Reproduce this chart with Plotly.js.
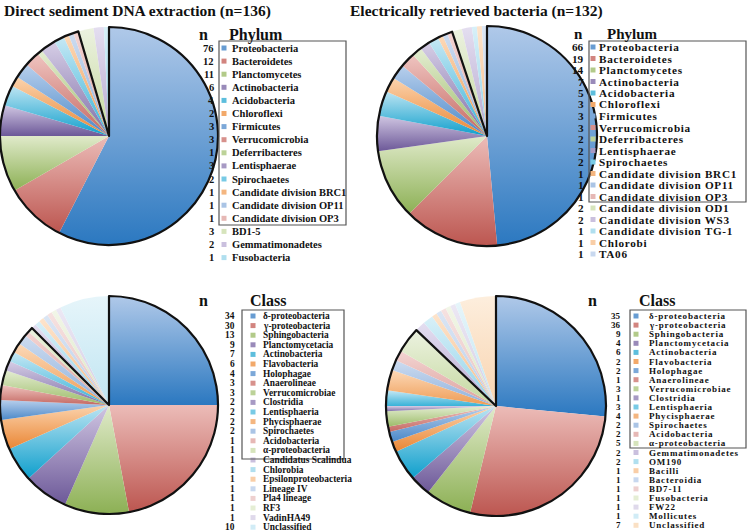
<!DOCTYPE html>
<html><head><meta charset="utf-8">
<script src="https://cdn.plot.ly/plotly-3.0.1.min.js"></script>
<style>html,body{margin:0;padding:0;background:#fff}#chart{width:747px;height:532px}</style>
</head><body><div id="chart"></div>
<script>
// ---------- DATA ----------
const phylumDirectNames = ["Proteobacteria","Bacteroidetes","Planctomycetes","Actinobacteria","Acidobacteria","Chloroflexi","Firmicutes","Verrucomicrobia","Deferribacteres","Lentisphaerae","Spirochaetes","Candidate division BRC1","Candidate division OP11","Candidate division OP3","BD1-5","Gemmatimonadetes","Fusobacteria"];
const phylumDirectN = [76,12,11,6,4,2,3,3,1,3,2,1,1,1,3,2,1];
const phylumDirectBoxed = 14;

const phylumElecNames = ["Proteobacteria","Bacteroidetes","Planctomycetes","Actinobacteria","Acidobacteria","Chloroflexi","Firmicutes","Verrucomicrobia","Deferribacteres","Lentisphaerae","Spirochaetes","Candidate division BRC1","Candidate division OP11","Candidate division OP3","Candidate division OD1","Candidate division WS3","Candidate division TG-1","Chlorobi","TA06"];
const phylumElecN = [66,19,14,7,5,3,3,3,2,2,2,1,1,1,2,2,1,1,1];
const phylumElecBoxed = 14;

const classDirectNames = ["δ-proteobacteria","γ-proteobacteria","Sphingobacteria","Planctomycetacia","Actinobacteria","Flavobacteria","Holophagae","Anaerolineae","Verrucomicrobiae","Clostridia","Lentisphaeria","Phycisphaerae","Spirochaetes","Acidobacteria","α-proteobacteria","Candidatus Scalindua","Chlorobia","Epsilonproteobacteria","Lineage IV","Pla4 lineage","RF3","VadinHA49","Unclassified"];
const classDirectN = [34,30,13,9,7,6,4,3,3,2,2,2,2,1,1,1,1,1,1,1,1,1,10];
const classDirectBoxed = 15;

const classElecNames = ["δ-proteobacteria","γ-proteobacteria","Sphingobacteria","Planctomycetacia","Actinobacteria","Flavobacteria","Holophagae","Anaerolineae","Verrucomicrobiae","Clostridia","Lentisphaeria","Phycisphaerae","Spirochaetes","Acidobacteria","α-proteobacteria","Gemmatimonadetes","OM190","Bacilli","Bacteroidia","BD7-11","Fusobacteria","FW22","Mollicutes","Unclassified"];
const classElecN = [35,36,9,4,6,2,2,1,3,1,3,4,2,2,5,2,2,1,1,1,1,1,1,7];
const classElecBoxed = 15;

const titleLeft = "Direct sediment DNA extraction (n=136)";
const titleRight = "Electrically retrieved bacteria (n=132)";

// ---------- STYLE ----------
const W = 747, H = 532;
const FONT = "Liberation Serif";
const pairs = [
 ['#b0c9e9','#2b78c0'],['#ecbcb8','#bc5650'],['#e0eaca','#8cb054'],['#d0c6e2','#6c5898'],['#bde4f2','#0e9fcc'],['#fbd3ad','#ea8634'],
 ['#b8cfec','#4a88c8'],['#efc4c0','#c46862'],['#e4edd2','#9cbc68'],['#d6cee6','#8070a8'],['#c6e8f4','#38b2d8'],['#fcd9b8','#ee9a52'],
 ['#cddcf0','#8db0dc'],['#f3d4d2','#dca19d'],['#ecf2e0','#c4d89e'],['#e4def0','#b4a7cf'],['#d8f0f8','#8fd1e8'],['#fde4cc','#f5bc88'],
 ['#dbe6f4','#b8cdea'],['#f6e2e1','#e8c2c0'],['#f2f6e8','#dbe7c4'],['#ece8f4','#d4cce4'],['#e6f5fa','#c0e5f2'],['#fdeedd','#f8d4b0']
];
function hex2rgb(h){return [1,3,5].map(i=>parseInt(h.substr(i,2),16));}
function mix(a,b,t){const A=hex2rgb(a),B=hex2rgb(b);return 'rgb('+A.map((v,i)=>Math.round(v*(1-t)+B[i]*t)).join(',')+')';}
const mids = pairs.map(p=>mix(p[0],p[1],0.55));

const px = x => x / W, py = y => 1 - y / H;

const pies = [
  {names: phylumDirectNames, vals: phylumDirectN, boxed: phylumDirectBoxed, cx:109, cy:136, r:109},
  {names: phylumElecNames, vals: phylumElecN, boxed: phylumElecBoxed, cx:487, cy:136, r:110},
  {names: classDirectNames, vals: classDirectN, boxed: classDirectBoxed, cx:109, cy:405, r:109},
  {names: classElecNames, vals: classElecN, boxed: classElecBoxed, cx:496, cy:406, r:110}
];

const legends = [
  {head:"Phylum", nX:203, headX:256, headY:35, hs:16, numR:215, mk:224, nameX:231, y0:48, dy:13.1, fs:10.5, ls:0, box:[219,41,346,225]},
  {head:"Phylum", nX:578, headX:632, headY:34, hs:15, numR:585, mk:593, nameX:598, y0:47, dy:11.5, fs:11.2, ls:0.7, box:[589,41,746,202]},
  {head:"Class", nX:203, headX:268, headY:300, hs:16, numR:236, mk:253, nameX:262, y0:316, dy:9.6, fs:9.4, ls:0, box:[242,310,344,459]},
  {head:"Class", nX:592, headX:657, headY:300, hs:16, numR:622, mk:636, nameX:648, y0:316, dy:9.1, fs:9.0, ls:0.8, box:[630,310,746,448]}
];

const data = [];
pies.forEach(p => {
  data.push({
    type:'pie', values:p.vals, labels:p.names, sort:false, direction:'clockwise', rotation:0,
    textinfo:'none', hoverinfo:'none', showlegend:false,
    marker:{colors: p.vals.map((v,i)=>mids[i]), line:{width:0}},
    domain:{x:[px(p.cx-p.r), px(p.cx+p.r)], y:[py(p.cy+p.r), py(p.cy-p.r)]}
  });
});
pies.forEach(p => {
  const a = p.vals.slice(0,p.boxed).reduce((s,v)=>s+v,0);
  const b = p.vals.slice(p.boxed).reduce((s,v)=>s+v,0);
  data.push({
    type:'pie', values:[a,b], labels:['boxed','rest'], sort:false, direction:'clockwise', rotation:0,
    textinfo:'none', hoverinfo:'none', showlegend:false,
    marker:{colors:['rgba(0,0,0,0)','rgba(0,0,0,0)'], line:{color:['#111','rgba(0,0,0,0)'], width:[2.2,0]}},
    domain:{x:[px(p.cx-p.r), px(p.cx+p.r)], y:[py(p.cy+p.r), py(p.cy-p.r)]}
  });
});

const annotations = [];
const annLS = [];
const shapes = [];
function ann(text, x, y, size, xanchor, ls){
  annotations.push({text:'<b>'+text+'</b>', x:px(x), y:py(y), xref:'paper', yref:'paper', showarrow:false,
    xanchor:xanchor, yanchor:'middle', borderpad:0, font:{family:FONT, size:size, color:'#111'}});
  annLS.push({ls: ls || 0, n: text.length});
}
ann(titleLeft, 137, 11, 15.5, 'center');
ann(titleRight, 477, 11, 15.5, 'center');

pies.forEach((p, k) => {
  const L = legends[k];
  ann('n', L.nX, L.headY, L.hs, 'center');
  ann(L.head, L.headX, L.headY, L.hs, 'center');
  p.names.forEach((nm, i) => {
    const y = L.y0 + i * L.dy;
    ann(String(p.vals[i]), L.numR, y, L.fs, 'right');
    ann(nm, L.nameX, y, L.fs, 'left', L.ls);
    shapes.push({type:'rect', xref:'paper', yref:'paper', x0:px(L.mk-2.5), x1:px(L.mk+2.5), y0:py(y+2.5), y1:py(y-2.5),
      fillcolor:mids[i], line:{width:0}});
  });
  const b = L.box;
  shapes.push({type:'rect', xref:'paper', yref:'paper', x0:px(b[0]), x1:px(b[2]), y0:py(b[3]), y1:py(b[1]),
    fillcolor:'rgba(0,0,0,0)', line:{color:'#555', width:1.2}});
});

const layout = {
  width:W, height:H, margin:{l:0,r:0,t:0,b:0}, paper_bgcolor:'#fff', plot_bgcolor:'#fff',
  showlegend:false, annotations:annotations, shapes:shapes, font:{family:FONT}
};

Plotly.newPlot('chart', data, layout, {staticPlot:true, displayModeBar:false}).then(gd => {
  const NS = 'http://www.w3.org/2000/svg';
  const svg = gd.querySelector('svg.main-svg');
  let defs = svg.querySelector('defs');
  if (!defs) { defs = document.createElementNS(NS,'defs'); svg.insertBefore(defs, svg.firstChild); }
  const traces = gd.querySelectorAll('.pielayer .trace');
  traces.forEach((tr, ti) => {
    if (ti >= pies.length) return;
    tr.querySelectorAll('.slice path.surface').forEach((path, i) => {
      const pr = pairs[i % pairs.length];
      const g = document.createElementNS(NS,'linearGradient');
      const id = 'sg' + ti + '_' + i;
      g.setAttribute('id', id); g.setAttribute('x1','0'); g.setAttribute('y1','0'); g.setAttribute('x2','0'); g.setAttribute('y2','1');
      [[0,pr[0]],[1,pr[1]]].forEach(s => {
        const st = document.createElementNS(NS,'stop');
        st.setAttribute('offset', s[0]); st.setAttribute('stop-color', s[1]); g.appendChild(st);
      });
      defs.appendChild(g);
      path.style.fill = 'url(#' + id + ')';
    });
  });
  // letter spacing for stretched legend text, keeping the left edge in place
  gd.querySelectorAll('.annotation').forEach((a, i) => {
    const s = annLS[i];
    if (!s || !s.ls) return;
    const t = a.querySelector('text');
    if (!t) return;
    const before = t.getBBox();
    t.style.letterSpacing = s.ls + 'px';
    const after = t.getBBox();
    const shift = before.x - after.x;
    const cur = t.getAttribute('transform') || '';
    t.setAttribute('transform', cur + ' translate(' + shift + ',0)');
  });
});
</script>
</body></html>
